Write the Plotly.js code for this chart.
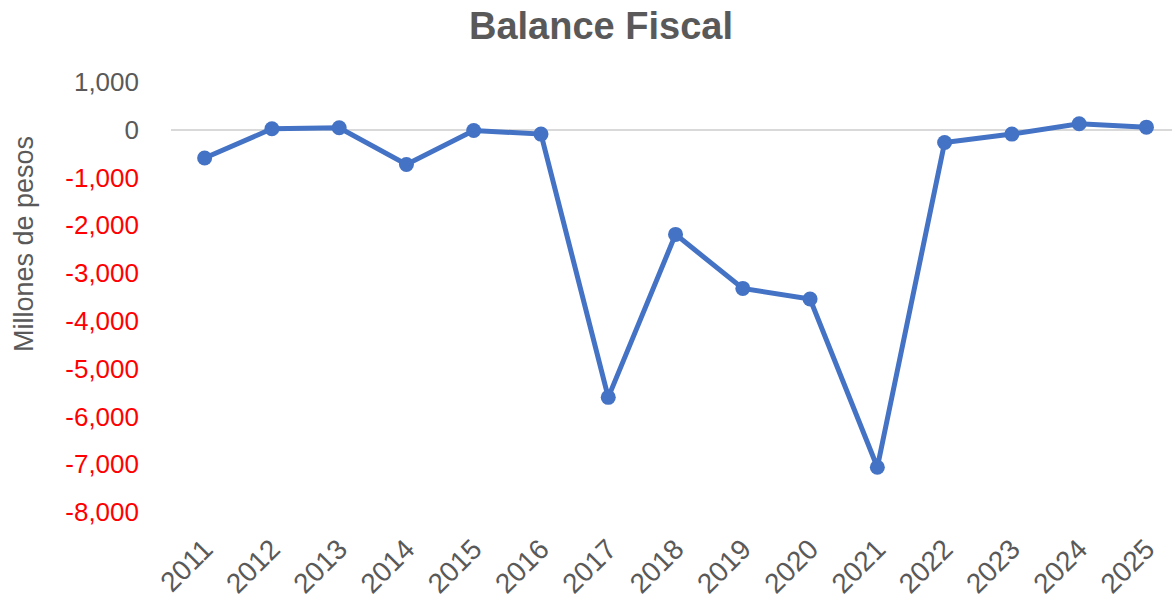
<!DOCTYPE html>
<html>
<head>
<meta charset="utf-8">
<script src="https://cdn.plot.ly/plotly-3.0.1.min.js"></script>
<style>html,body{margin:0;padding:0;background:#fff;}#chart{width:1172px;height:605px;}</style>
</head>
<body>
<div id="chart"></div>
<script>
const years = ["2011","2012","2013","2014","2015","2016","2017","2018","2019","2020","2021","2022","2023","2024","2025"];
const balance = [-592, 20, 42, -726, -15, -90, -5600, -2190, -3320, -3542, -7063, -265, -90, 125, 55];
const yTickVals = [1000, 0, -1000, -2000, -3000, -4000, -5000, -6000, -7000, -8000];
const yTickLabels = ["1,000", "0", "-1,000", "-2,000", "-3,000", "-4,000", "-5,000", "-6,000", "-7,000", "-8,000"];

const FONT = "Liberation Sans, Arial, sans-serif";
const GRAY = "#595959";
const ticktext = yTickVals.map((v, i) => v < 0
  ? '<span style="color:#FF0000">' + yTickLabels[i] + '</span>'
  : yTickLabels[i]);

const trace = {
  x: years,
  y: balance,
  type: "scatter",
  mode: "lines+markers",
  line: {color: "#4472C4", width: 5},
  marker: {color: "#4472C4", size: 15},
  cliponaxis: false,
  hoverinfo: "x+y"
};

const layout = {
  width: 1172,
  height: 605,
  paper_bgcolor: "#ffffff",
  plot_bgcolor: "#ffffff",
  margin: {l: 171, r: 0, t: 82, b: 93, pad: 0},
  showlegend: false,
  font: {family: FONT, color: GRAY, size: 26},
  title: {
    text: "<b>Balance Fiscal</b>",
    font: {family: FONT, size: 38, color: GRAY},
    x: (601 - 171) / 1001, xref: "paper", xanchor: "center",
    y: 0.958, yref: "container", yanchor: "middle"
  },
  xaxis: {
    type: "category",
    range: [-0.5, 14.38],
    showgrid: false,
    zeroline: false,
    showline: false,
    ticks: "",
    tickangle: -45,
    ticklabelstandoff: 14,
    tickfont: {family: FONT, size: 28, color: GRAY},
    fixedrange: true
  },
  yaxis: {
    range: [-8000, 1000],
    tickvals: yTickVals,
    ticktext: ticktext,
    showgrid: false,
    zeroline: true,
    zerolinecolor: "#D9D9D9",
    zerolinewidth: 2,
    showline: false,
    ticks: "",
    ticklabelstandoff: 31,
    tickfont: {family: FONT, size: 26, color: GRAY},
    fixedrange: true
  },
  annotations: [{
    text: "Millones de pesos",
    textangle: -90,
    xref: "paper", yref: "paper",
    x: -(171 - 24) / 1001, y: (512 - 244) / 430,
    xanchor: "center", yanchor: "middle",
    showarrow: false,
    font: {family: FONT, size: 27, color: GRAY}
  }]
};

Plotly.newPlot("chart", [trace], layout, {displayModeBar: false, staticPlot: true});
</script>
</body>
</html>
